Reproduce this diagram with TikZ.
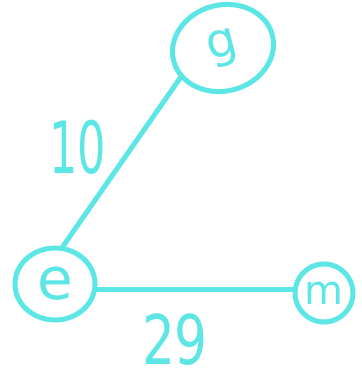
\documentclass[tikz,border=0pt]{standalone}
\usepackage{fontspec}
\setmainfont{DejaVu Sans}
\usetikzlibrary{shapes.geometric}
\definecolor{ink}{HTML}{5CE6E6}
\begin{document}
\begin{tikzpicture}[x=1pt,y=1pt,
  vert/.style={draw=ink, line width=5pt, ellipse, inner sep=0pt, text=ink},
  wire/.style={draw=ink, line width=5pt, line cap=round},
  lbl/.style={text=ink, font=\fontsize{72}{72}\selectfont}]
\useasboundingbox[fill=white] (0,0) rectangle (362,381);
\node[vert, minimum width=102pt, minimum height=86pt, rotate=15, font=\fontsize{48}{48}\selectfont] (g) at (223,333) {g};
\node[vert, minimum width=80pt, minimum height=72pt, font=\fontsize{58}{58}\selectfont] (e) at (55,97) {e};
\node[vert, minimum width=58pt, minimum height=58pt, inner sep=-8pt, font=\fontsize{40}{40}\selectfont] (m) at (324,88) {m};
\draw[wire] (g.200) -- (e.78);
\draw[wire] (e.east) ++(0,-6) coordinate (eo) -- (eo -| m.west);
\node[lbl, xscale=0.62] (l10) at (78,234) {10};
\node[lbl, xscale=0.72, yscale=0.95] (l29) at (175,41) {29};
\end{tikzpicture}
\end{document}
